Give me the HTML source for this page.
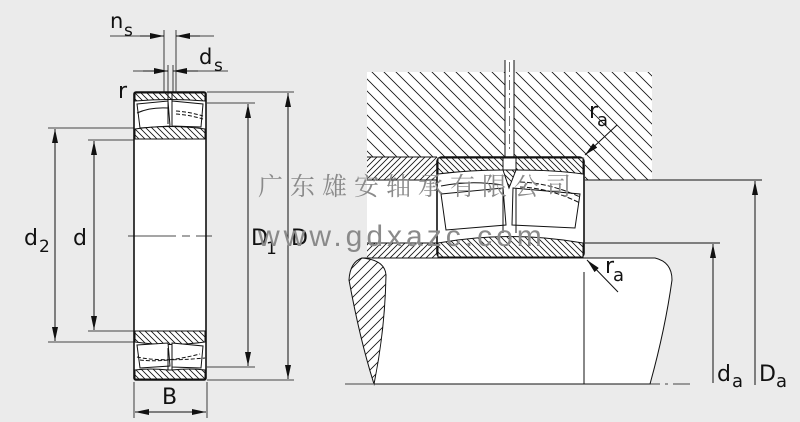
<!DOCTYPE html>
<html><head><meta charset="utf-8"><style>
html,body{margin:0;padding:0;background:#ebebeb;}
svg{display:block}
text{font-family:"DejaVu Sans","Liberation Sans",sans-serif;fill:#111}
.wm{font-family:"Liberation Serif","Noto Serif CJK SC",serif;fill:#8a8a8a}
</style></head><body>
<svg width="800" height="422" viewBox="0 0 800 422" xmlns="http://www.w3.org/2000/svg">
<defs>
<pattern id="hb" width="6" height="6" patternUnits="userSpaceOnUse"><rect width="6" height="6" fill="#fff"/><path d="M0,0L6,6M-1,5L1,7M5,-1L7,1" stroke="#111" stroke-width="0.8"/></pattern>
<pattern id="hf" width="6" height="6" patternUnits="userSpaceOnUse"><rect width="6" height="6" fill="#fff"/><path d="M0,6L6,0M-1,1L1,-1M5,7L7,5" stroke="#111" stroke-width="0.8"/></pattern>
<pattern id="hw" width="12" height="12" patternUnits="userSpaceOnUse"><rect width="12" height="12" fill="#fff"/><path d="M0,0L12,12M-1,11L1,13M11,-1L13,1" stroke="#111" stroke-width="0.8"/></pattern>
<pattern id="hwf" width="10" height="10" patternUnits="userSpaceOnUse"><rect width="10" height="10" fill="#fff"/><path d="M0,10L10,0M-1,1L1,-1M9,11L11,9" stroke="#111" stroke-width="0.8"/></pattern>
<marker id="al" viewBox="0 0 14 6" refX="14" refY="3" markerWidth="14" markerHeight="6" orient="auto-start-reverse" markerUnits="userSpaceOnUse"><path d="M0,0L14,3L0,6Z" fill="#111"/></marker>
</defs>
<g stroke="#111" fill="none" stroke-width="1">
<!-- LEFT BEARING -->
<rect x="134" y="92" width="72" height="288" fill="#fff" stroke-width="1.6" rx="2"/>
<path d="M135,93H205V101Q170,98 135,101Z" fill="url(#hb)"/>
<path d="M137,104L168,101L170,126L140,128Z" fill="#fff"/>
<path d="M172,101L203,104L201,127L172,126Z" fill="#fff"/>
<path d="M176,111Q190,112 203,116M176,114Q190,115 203,119" stroke-dasharray="4,2"/>
<path d="M137,113Q150,107 168,108"/>
<path d="M168,92V124M172,92V124"/>
<path d="M135,129Q170,124 205,129V139H135Z" fill="url(#hb)"/>
<path d="M135,331H205V342Q170,347 135,342Z" fill="url(#hb)"/>
<path d="M137,345L168,343L170,366L140,368Z" fill="#fff"/>
<path d="M172,343L203,346L201,368L172,367Z" fill="#fff"/>
<path d="M137,357Q160,362 205,358M140,360Q165,363 200,354" stroke-dasharray="4,2"/>
<path d="M168,348V370M172,348V370"/>
<path d="M135,370Q150,368 168,370H172Q190,368 205,370V379H135Z" fill="url(#hb)"/>
<path d="M128,236H176M182,236H190M196,236H212" stroke-width="0.8"/>
<path d="M48,128H134M88,140H134M48,342H134M88,331H134" stroke-width="0.8"/>
<path d="M55,129V341" marker-start="url(#al)" marker-end="url(#al)"/>
<path d="M94,141V330" marker-start="url(#al)" marker-end="url(#al)"/>
<path d="M207,103H255M207,367H255M207,92H294M207,380H294" stroke-width="0.8"/>
<path d="M248,104V366" marker-start="url(#al)" marker-end="url(#al)"/>
<path d="M288,93V379" marker-start="url(#al)" marker-end="url(#al)"/>
<path d="M134,382V418M207,382V418" stroke-width="0.8"/>
<path d="M135,412H206" marker-start="url(#al)" marker-end="url(#al)"/>
<path d="M164,30V92M176,30V92M168,65V92M173,65V92" stroke-width="0.8"/>
<path d="M110,36H164M214,36H176" stroke-width="0.8"/>
<path d="M140,36H164" marker-end="url(#al)"/>
<path d="M200,36H176" marker-end="url(#al)"/>
<path d="M133,71H168M228,71H173" stroke-width="0.8"/>
<path d="M143,71H168" marker-end="url(#al)"/>
<path d="M198,71H173" marker-end="url(#al)"/>

<!-- RIGHT -->
<rect x="367" y="72" width="285" height="85" fill="url(#hw)" stroke="none"/>
<rect x="585" y="157" width="67" height="23" fill="url(#hw)" stroke="none"/>
<rect x="367" y="157" width="70" height="23" fill="url(#hf)" stroke="none"/>
<rect x="367" y="180" width="70" height="63" fill="#fff" stroke="none"/>
<rect x="367" y="243" width="70" height="15" fill="url(#hf)" stroke="none"/>
<path d="M367,157H437M367,180H437M367,243H437M367,258H437"/>
<path d="M585,180H762M585,243H720"/>
<rect x="505" y="60" width="9" height="97" fill="#fff" stroke="none"/>
<path d="M505,60V157M514,60V157"/>
<path d="M509.5,62V150" stroke-dasharray="10,3,2,3" stroke-width="0.6"/>
<rect x="437" y="157" width="147" height="101" rx="5" fill="#fff" stroke-width="1.6"/>
<path d="M438,158H503V167H516V158H583V174Q555,170 516,170H503Q470,170 438,174Z" fill="url(#hb)"/>
<rect x="503" y="158" width="13" height="12" fill="#fff"/>
<path d="M503,170L509,188L516,170Z" fill="url(#hb)"/>
<path d="M441,194L503,188L506,225L446,230Z" fill="#fff"/>
<path d="M513,188L580,194L575,228L512,225Z" fill="#fff"/>
<path d="M520,182Q550,183 580,197M520,187Q550,188 580,203" stroke-dasharray="5,2"/>
<path d="M441,186Q470,180 503,185"/>
<path d="M438,243Q510,230 583,243V257H438Z" fill="url(#hb)"/>
<path d="M503,188V233M516,188V233"/>
<!-- shaft -->
<path d="M362,258H655Q672,262 672,280Q665,330 650,384H374Z" fill="#fff"/>
<path d="M362,258Q385,260 386,275Q385,330 374,384Q360,340 349,280Q350,262 362,258Z" fill="url(#hwf)"/>
<path d="M345,384H690" stroke-dasharray="28,5,3,5" stroke-width="0.8"/>
<path d="M584,272V384"/>
<path d="M617,125L585,155" marker-end="url(#al)"/>
<path d="M618,292L587,260" marker-end="url(#al)"/>
<path d="M713,244V383" marker-start="url(#al)"/>
<path d="M755,181V385" marker-start="url(#al)"/>
</g>
<text x="110" y="28" font-size="21">n</text><text x="124" y="36" font-size="17">s</text>
<text x="199" y="64" font-size="21">d</text><text x="214" y="71" font-size="17">s</text>
<text x="118" y="98" font-size="22">r</text>
<text x="24" y="245" font-size="22">d</text><text x="39" y="252" font-size="17">2</text>
<text x="73" y="245" font-size="22">d</text>
<text x="251" y="245" font-size="22">D</text><text x="266" y="254" font-size="17">1</text>
<text x="291" y="245" font-size="22">D</text>
<text x="162" y="404" font-size="22">B</text>
<text x="589" y="118" font-size="22">r</text><text x="597" y="126" font-size="18">a</text>
<text x="605" y="273" font-size="22">r</text><text x="613" y="281" font-size="18">a</text>
<text x="717" y="381" font-size="22">d</text><text x="732" y="387" font-size="18">a</text>
<text x="759" y="381" font-size="22">D</text><text x="776" y="387" font-size="18">a</text>
<text class="wm" x="258" y="195" font-size="25" letter-spacing="7">广东雄安轴承有限公司</text>
<text x="258" y="246" font-size="30" letter-spacing="4" style="fill:#8a8a8a;font-family:'Liberation Sans',sans-serif">www.gdxazc.com</text>
</svg>
</body></html>
